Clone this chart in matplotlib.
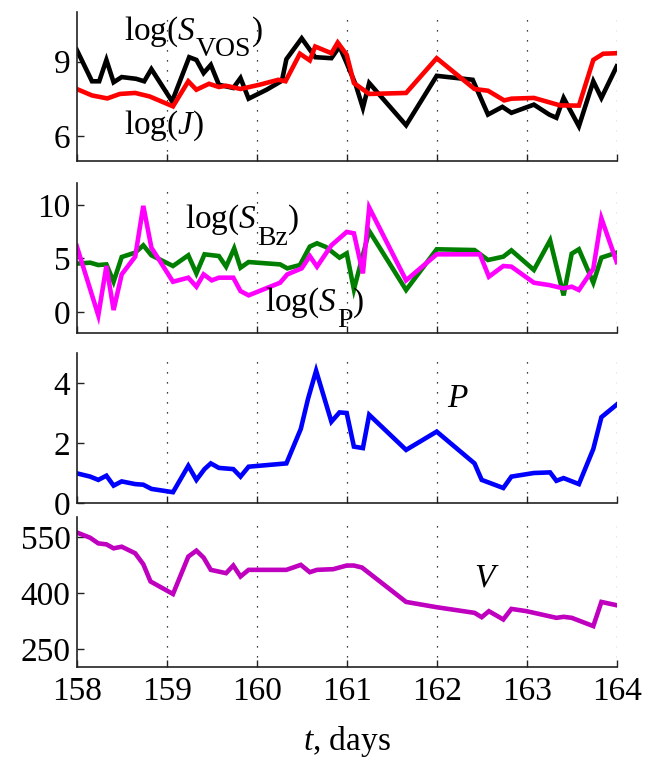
import numpy as np
import matplotlib
matplotlib.use('Agg')
import matplotlib.pyplot as plt

plt.rcParams['font.family'] = 'Liberation Serif'
plt.rcParams['mathtext.fontset'] = 'custom'
plt.rcParams['mathtext.rm'] = 'Liberation Serif'
plt.rcParams['mathtext.it'] = 'Liberation Serif:italic'
plt.rcParams['font.size'] = 24

# Panel 1: log(S_VOS) and log(J)
t_svos = [158.0, 158.17, 158.25, 158.33, 158.41, 158.50, 158.66, 158.75, 158.83, 159.06,
          159.25, 159.33, 159.41, 159.49, 159.58, 159.74, 159.82, 159.91, 160.11, 160.28,
          160.33, 160.50, 160.65, 160.83, 160.92, 161.0, 161.10, 161.18, 161.25, 161.66,
          162.0, 162.40, 162.57, 162.73, 162.83, 163.08, 163.25, 163.33, 163.41, 163.58,
          163.74, 163.83, 164.0]
svos = [9.48, 8.21, 8.21, 9.07, 8.17, 8.38, 8.31, 8.21, 8.70, 7.40,
        9.18, 9.07, 8.54, 8.87, 8.07, 7.94, 8.34, 7.51, 7.87, 8.23,
        9.10, 9.94, 9.18, 9.14, 9.61, 8.94, 8.07, 7.14, 8.14, 6.44,
        8.43, 8.27, 6.87, 7.18, 6.94, 7.27, 6.87, 6.74, 7.54, 6.40,
        8.21, 7.54, 8.81]

t_j = [158.0, 158.17, 158.34, 158.48, 158.65, 158.81, 159.07, 159.24, 159.33, 159.47,
       159.58, 159.66, 159.82, 160.03, 160.24, 160.32, 160.48, 160.59, 160.65, 160.83,
       160.90, 161.0, 161.08, 161.25, 161.66, 162.0, 162.42, 162.57, 162.75, 162.83,
       163.08, 163.37, 163.58, 163.74, 163.85, 164.0]
logj = [7.90, 7.64, 7.52, 7.70, 7.74, 7.60, 7.20, 8.21, 7.87, 8.11,
        7.98, 8.03, 7.90, 8.07, 8.27, 8.21, 9.32, 9.05, 9.61, 9.34,
        9.77, 9.28, 8.14, 7.70, 7.74, 9.14, 7.90, 7.83, 7.44, 7.51,
        7.54, 7.24, 7.23, 9.07, 9.32, 9.34]

# Panel 2: log(S_Bz) and log(S_P)
t_sbz = [158.0, 158.15, 158.24, 158.33, 158.41, 158.50, 158.65, 158.74, 158.83, 159.07,
         159.24, 159.33, 159.42, 159.58, 159.66, 159.75, 159.82, 159.91, 160.26, 160.34,
         160.48, 160.59, 160.67, 160.77, 160.92, 161.0, 161.08, 161.25, 161.66, 162.0,
         162.42, 162.57, 162.74, 162.83, 163.08, 163.26, 163.41, 163.50, 163.58, 163.74,
         163.83, 164.0]
sbz = [4.52, 4.61, 4.39, 4.45, 2.83, 5.14, 5.55, 6.23, 5.30, 4.30,
       5.30, 3.61, 5.39, 5.23, 4.24, 5.95, 4.14, 4.67, 4.45, 4.08,
       4.39, 6.11, 6.42, 6.07, 5.08, 5.48, 2.12, 7.57, 2.06, 5.86,
       5.79, 4.86, 5.17, 5.76, 3.93, 6.70, 1.56, 5.45, 5.86, 2.74,
       5.08, 5.55]

t_sp = [158.0, 158.24, 158.33, 158.41, 158.50, 158.65, 158.74, 158.83, 159.07, 159.24,
        159.33, 159.41, 159.50, 159.58, 159.74, 159.82, 159.91, 160.26, 160.34, 160.50,
        160.59, 160.67, 160.83, 161.0, 161.08, 161.18, 161.25, 161.66, 162.0, 162.48,
        162.58, 162.74, 162.83, 163.08, 163.25, 163.41, 163.50, 163.58, 163.74, 163.83,
        164.0]
sp = [6.17, -0.31, 4.30, 0.19, 3.52, 5.17, 9.91, 6.01, 2.83, 3.21,
      2.37, 3.52, 2.96, 3.21, 3.21, 1.96, 1.56, 2.74, 3.52, 4.08,
      5.23, 4.24, 6.23, 7.48, 7.35, 3.61, 9.75, 2.96, 5.39, 5.39,
      3.30, 4.30, 4.24, 2.74, 2.52, 2.21, 2.37, 2.06, 4.05, 8.75,
      4.67]

# Panel 3: P
t_p = [158.0, 158.15, 158.24, 158.33, 158.41, 158.50, 158.65, 158.74, 158.83, 159.07,
       159.24, 159.33, 159.42, 159.49, 159.58, 159.74, 159.82, 159.91, 160.33, 160.49,
       160.57, 160.66, 160.83, 160.92, 161.0, 161.08, 161.18, 161.25, 161.66, 162.0,
       162.42, 162.50, 162.74, 162.83, 163.08, 163.26, 163.33, 163.41, 163.58, 163.74,
       163.83, 164.0]
p = [0.99, 0.88, 0.77, 0.91, 0.58, 0.72, 0.63, 0.61, 0.47, 0.36,
     1.24, 0.77, 1.13, 1.32, 1.17, 1.13, 0.88, 1.21, 1.32, 2.47,
     3.47, 4.41, 2.71, 3.02, 3.00, 1.88, 1.83, 2.94, 1.77, 2.38,
     1.32, 0.77, 0.50, 0.88, 1.00, 1.02, 0.74, 0.83, 0.63, 1.80,
     2.86, 3.28]

# Panel 4: V
t_v = [158.0, 158.15, 158.24, 158.33, 158.41, 158.50, 158.65, 158.74, 158.82, 159.07,
       159.24, 159.33, 159.41, 159.49, 159.66, 159.74, 159.82, 159.91, 160.33, 160.49,
       160.59, 160.67, 160.85, 161.0, 161.08, 161.17, 161.66, 162.0, 162.42, 162.50,
       162.58, 162.74, 162.83, 163.0, 163.33, 163.41, 163.50, 163.74, 163.83, 164.0]
v = [562.7, 548.4, 533.3, 530.7, 520.0, 524.4, 506.7, 477.3, 431.0, 397.3,
     497.8, 513.8, 495.1, 462.2, 453.3, 473.8, 444.4, 462.2, 462.2, 475.6,
     456.0, 462.2, 464.0, 473.8, 473.8, 468.4, 376.0, 361.8, 346.7, 335.1,
     351.1, 328.9, 357.3, 351.1, 333.3, 336.0, 333.3, 311.1, 376.0, 367.1]

xticks = [158, 159, 160, 161, 162, 163, 164]

W, H = 654, 760
fig = plt.figure(figsize=(W / 100, H / 100), dpi=100)
# axes boxes in pixels: (top, bottom)
x0, x1 = 76.7, 616.7
boxes = [(12, 161), (183.5, 333.5), (353, 503), (516.7, 666.7)]
axes = [fig.add_axes([x0 / W, 1 - b / H, (x1 - x0) / W, (b - t) / H]) for t, b in boxes]


def sub_label(ax, x, y, main, sub, fs=24, sfs=20):
    # main text, lowered subscript, closing bracket back on the baseline
    t1 = ax.text(x, y, main, va='baseline', ha='left', fontsize=fs)
    t2 = ax.annotate(sub, xy=(1, y), xycoords=(t1, 'data'), xytext=(0.5, -12),
                     textcoords='offset points', va='baseline', ha='left', fontsize=sfs)
    ax.annotate(')', xy=(1, y), xycoords=(t2, 'data'), va='baseline', ha='left',
                fontsize=fs)


lw = 3.3
ax1, ax2, ax3, ax4 = axes
ax1.plot(t_svos, svos, color='black', lw=lw, solid_joinstyle='miter')
ax1.plot(t_j, logj, color='red', lw=lw, solid_joinstyle='miter')
ax1.set_ylim(5, 11)
ax1.set_yticks([6, 9])
sub_label(ax1, 158.52, 9.88, r'log($S$', 'VOS')
ax1.text(158.52, 6.08, r'log($J$)', va='baseline', ha='left', fontsize=24)

ax2.plot(t_sbz, sbz, color='#007f00', lw=lw, solid_joinstyle='miter')
ax2.plot(t_sp, sp, color='#ff00ff', lw=lw, solid_joinstyle='miter')
ax2.set_ylim(-2, 12)
ax2.set_yticks([0, 5, 10])
sub_label(ax2, 159.20, 7.83, r'log($S$', 'Bz')
sub_label(ax2, 160.09, 0.12, r'log($S$', 'P')

ax3.plot(t_p, p, color='#0000ff', lw=lw, solid_joinstyle='miter')
ax3.set_ylim(0, 5)
ax3.set_yticks([0, 2, 4])
ax3.text(162.24, 3.21, r'$P$', va='baseline', ha='center', fontsize=24)

ax4.plot(t_v, v, color='#bf00bf', lw=lw, solid_joinstyle='miter')
ax4.set_ylim(202, 605)
ax4.set_yticks([250, 400, 550])
ax4.text(162.56, 417.7, r'$V$', va='baseline', ha='center', fontsize=24)
ax4.set_xlabel(r'$t$, days', labelpad=12, fontsize=24)

for ax in axes:
    ax.set_xlim(158, 164)
    ax.set_xticks(xticks)
    for x in xticks[1:]:
        ax.axvline(x, color='black', lw=0.9, ls=(0, (1, 7)), zorder=0)
    ax.spines['top'].set_visible(False)
    ax.spines['right'].set_visible(False)
    ax.spines['left'].set_color('#222222')
    ax.spines['bottom'].set_color('#222222')
    ax.spines['left'].set_linewidth(1.2)
    ax.spines['bottom'].set_linewidth(1.2)
    ax.tick_params(direction='in', length=5, width=1, colors='#222222',
                   labelcolor='black', labelsize=24)
    ax.tick_params(axis='y', pad=4.5)
    ax.tick_params(axis='x', pad=7)
    if ax is not ax4:
        ax.tick_params(labelbottom=False)
    ax.patch.set_visible(False)

fig.savefig('out.png', dpi=100)
